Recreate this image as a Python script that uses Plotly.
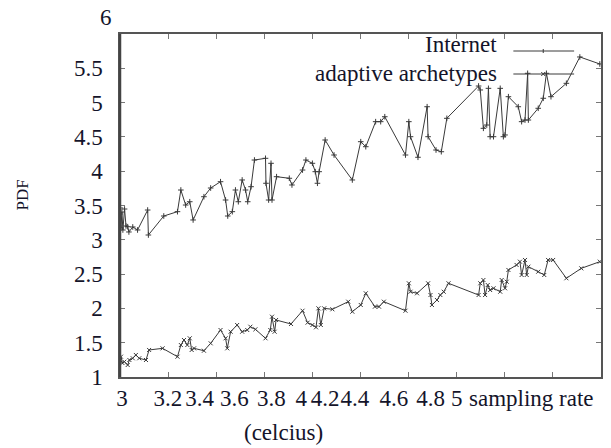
import plotly.graph_objects as go

# ---------------- data ----------------
internet_x = [3.002, 3.004, 3.008, 3.012, 3.019, 3.025, 3.032, 3.037, 3.053, 3.073,
              3.115, 3.118, 3.182, 3.239, 3.253, 3.273, 3.290, 3.304, 3.349, 3.377,
              3.418, 3.439, 3.448, 3.467, 3.480, 3.492, 3.508, 3.522, 3.531, 3.545,
              3.559, 3.605, 3.607, 3.618, 3.628, 3.632, 3.651, 3.704, 3.715, 3.759,
              3.773, 3.800, 3.812, 3.821, 3.828, 3.853, 3.890, 3.966, 4.001, 4.022,
              4.063, 4.084, 4.101, 4.187, 4.201, 4.208, 4.239, 4.277, 4.281, 4.314,
              4.336, 4.359, 4.491, 4.498, 4.511, 4.525, 4.532, 4.539, 4.553, 4.581,
              4.594, 4.601, 4.615, 4.656, 4.670, 4.684, 4.695, 4.698, 4.739, 4.760,
              4.773, 4.792, 4.856, 4.912, 4.995]
internet_y = [3.464, 3.172, 3.405, 3.143, 3.449, 3.201, 3.191, 3.114, 3.187, 3.143,
              3.434, 3.070, 3.347, 3.410, 3.726, 3.507, 3.555, 3.289, 3.628, 3.755,
              3.847, 3.580, 3.347, 3.410, 3.726, 3.555, 3.872, 3.726, 3.555, 3.774,
              4.163, 4.188, 3.824, 3.580, 4.115, 3.580, 3.920, 3.897, 3.799, 4.017,
              4.163, 4.115, 3.993, 3.824, 3.993, 4.455, 4.236, 3.872, 4.430, 4.357,
              4.722, 4.722, 4.794, 4.236, 4.722, 4.503, 4.203, 4.940, 4.503, 4.309,
              4.284, 4.771, 5.242, 5.184, 4.625, 4.673, 5.208, 4.503, 4.503, 5.208,
              4.503, 4.528, 5.086, 4.940, 4.722, 4.746, 5.427, 4.746, 4.917, 5.063,
              5.427, 5.086, 5.281, 5.665, 5.563]

adaptive_x = [3.000, 3.004, 3.010, 3.018, 3.032, 3.039, 3.053, 3.066, 3.080, 3.108,
              3.121, 3.177, 3.239, 3.253, 3.266, 3.280, 3.290, 3.298, 3.308, 3.349,
              3.377, 3.418, 3.439, 3.446, 3.460, 3.487, 3.508, 3.529, 3.542, 3.563,
              3.605, 3.625, 3.632, 3.643, 3.649, 3.711, 3.759, 3.780, 3.800, 3.815,
              3.825, 3.835, 3.849, 3.883, 3.949, 3.966, 4.001, 4.022, 4.060, 4.077,
              4.097, 4.187, 4.201, 4.208, 4.235, 4.281, 4.291, 4.297, 4.318, 4.332,
              4.346, 4.366, 4.491, 4.498, 4.511, 4.518, 4.529, 4.539, 4.553, 4.581,
              4.587, 4.601, 4.608, 4.615, 4.649, 4.663, 4.670, 4.684, 4.691, 4.698,
              4.739, 4.764, 4.780, 4.801, 4.856, 4.918, 4.995]
adaptive_y = [1.248, 1.296, 1.204, 1.223, 1.175, 1.248, 1.273, 1.321, 1.273, 1.248,
              1.394, 1.418, 1.296, 1.466, 1.539, 1.466, 1.564, 1.394, 1.418, 1.383,
              1.491, 1.685, 1.564, 1.418, 1.660, 1.758, 1.660, 1.685, 1.733, 1.695,
              1.564, 1.685, 1.879, 1.660, 1.831, 1.773, 1.966, 1.792, 1.758, 1.724,
              2.001, 1.758, 2.001, 1.987, 2.098, 1.952, 2.050, 2.220, 2.025, 2.025,
              2.098, 1.966, 2.366, 2.243, 2.220, 2.366, 2.195, 2.050, 2.122, 2.195,
              2.243, 2.366, 2.195, 2.366, 2.414, 2.195, 2.341, 2.268, 2.293, 2.243,
              2.414, 2.293, 2.389, 2.560, 2.633, 2.681, 2.487, 2.706, 2.487, 2.608,
              2.535, 2.487, 2.706, 2.706, 2.439, 2.584, 2.681]

series_names = ["Internet", "adaptive archetypes"]

y_tick_vals = [1, 1.5, 2, 2.5, 3, 3.5, 4, 4.5, 5, 5.5]
y_tick_text = ["1", "1.5", "2", "2.5", "3", "3.5", "4", "4.5", "5", "5.5"]
x_tick_vals = [3.0, 3.2, 3.4, 3.6, 3.8, 4.0, 4.2, 4.4, 4.6, 4.8, 5.0]
# labels as they appear (packed) under the axis
x_label_text = ["3", "3.2", "3.4", "3.6", "3.8", "4", "4.2", "4.4", "4.6", "4.8", "5", "sampling rate"]
x_label_pos = [3.008, 3.199, 3.331, 3.476, 3.629, 3.754, 3.853, 3.977, 4.139, 4.292, 4.400, 4.710]

# ---------------- figure ----------------
W, H = 611, 448
L, R, T, B = 120, 8, 34, 71
pw, ph = W - L - R, H - T - B

FONT = "Liberation Serif"
FS = 23
TXT = "#14142a"
LINE = "#3a3a3a"

fig = go.Figure()
fig.add_trace(go.Scatter(
    x=internet_x, y=internet_y, mode="lines+markers", name=series_names[0],
    line=dict(color=LINE, width=1),
    marker=dict(symbol="cross-thin", size=4, line=dict(color=LINE, width=1)),
    showlegend=False))
fig.add_trace(go.Scatter(
    x=adaptive_x, y=adaptive_y, mode="lines+markers", name=series_names[1],
    line=dict(color=LINE, width=1),
    marker=dict(symbol="x-thin", size=4, line=dict(color=LINE, width=1)),
    showlegend=False))
# invisible trace to activate label axis
fig.add_trace(go.Scatter(x=[3, 5], y=[1, 6], xaxis="x2", mode="markers",
                         marker=dict(opacity=0), showlegend=False, hoverinfo="skip"))

fig.update_layout(
    width=W, height=H,
    margin=dict(l=L, r=R, t=T, b=B),
    paper_bgcolor="white", plot_bgcolor="white",
    font=dict(family=FONT, size=FS, color=TXT),
    xaxis=dict(range=[3, 5], tickvals=x_tick_vals, showticklabels=False,
               ticks="inside", ticklen=5, tickcolor="#777", tickwidth=1,
               showline=True, linecolor="#555", linewidth=1.5, mirror="ticks",
               showgrid=False, zeroline=False),
    xaxis2=dict(range=[3, 5], overlaying="x", side="bottom",
                tickvals=x_label_pos, ticktext=x_label_text, tickangle=0,
                ticks="", showline=False, showgrid=False, zeroline=False,
                ticklabelstandoff=5,
                tickfont=dict(family=FONT, size=FS, color=TXT)),
    yaxis=dict(range=[1, 6], tickvals=y_tick_vals, ticktext=y_tick_text,
               ticks="inside", ticklen=5, tickcolor="#777", tickwidth=1,
               showline=True, linecolor="#555", linewidth=1.5, mirror="ticks",
               showgrid=False, zeroline=False, ticklabelstandoff=11,
               tickfont=dict(family=FONT, size=FS, color=TXT)),
)

def px(xp):
    return (xp - L) / pw

def py(yp):
    return 1 - (yp - T) / ph

# stronger left axis line
fig.add_shape(type="line", xref="paper", yref="paper", x0=0, x1=0, y0=0, y1=1,
              line=dict(color="#444", width=2.5))

# "6" label above the frame
fig.add_annotation(text="6", xref="paper", yref="paper", x=px(114), y=py(17),
                   xanchor="right", yanchor="middle", showarrow=False,
                   font=dict(family=FONT, size=FS, color=TXT))
# y title
fig.add_annotation(text="PDF", xref="paper", yref="paper", x=px(22), y=py(195),
                   xanchor="center", yanchor="middle", textangle=-90, showarrow=False,
                   font=dict(family=FONT, size=17, color=TXT))
# x title second line
fig.add_annotation(text="(celcius)", xref="paper", yref="paper", x=px(284), y=py(432),
                   xanchor="center", yanchor="middle", showarrow=False,
                   font=dict(family=FONT, size=FS, color=TXT))

# legend (gnuplot style: text right-aligned, sample on the right)
for name, ty, ly, sym in [(series_names[0], 45, 51, "+"), (series_names[1], 74, 74, "x")]:
    fig.add_annotation(text=name, xref="paper", yref="paper", x=px(501), y=py(ty),
                       xanchor="right", yanchor="middle", showarrow=False,
                       font=dict(family=FONT, size=FS, color=TXT))
    fig.add_shape(type="line", xref="paper", yref="paper",
                  x0=px(515), x1=px(576), y0=py(ly), y1=py(ly),
                  line=dict(color=LINE, width=1))
    if sym == "+":
        fig.add_shape(type="line", xref="paper", yref="paper",
                      x0=px(545), x1=px(545), y0=py(ly - 2), y1=py(ly + 2),
                      line=dict(color=LINE, width=1))
    else:
        fig.add_shape(type="line", xref="paper", yref="paper",
                      x0=px(543), x1=px(547), y0=py(ly - 2), y1=py(ly + 2),
                      line=dict(color=LINE, width=1))
        fig.add_shape(type="line", xref="paper", yref="paper",
                      x0=px(543), x1=px(547), y0=py(ly + 2), y1=py(ly - 2),
                      line=dict(color=LINE, width=1))

fig.write_html("out.html")
